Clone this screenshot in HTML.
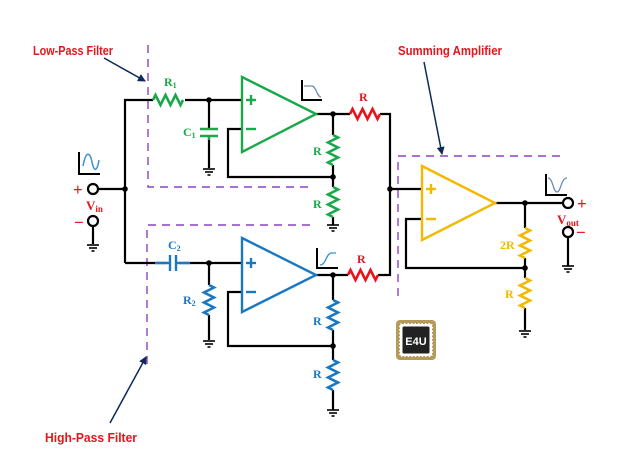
<!DOCTYPE html>
<html><head><meta charset="utf-8"><style>
html,body{margin:0;padding:0;background:#fff;}
svg{display:block;}
text{font-family:"Liberation Serif",serif;font-weight:bold;}
.lbl{font-family:"Liberation Sans",sans-serif;font-weight:bold;font-size:13px;fill:#e8141c;}
</style></head><body>
<svg width="620" height="466" viewBox="0 0 620 466" xmlns="http://www.w3.org/2000/svg">
<defs>
<path id="res" d="M0 0 L2.5 -5 L7.5 5 L12.5 -5 L17.5 5 L22.5 -5 L27.5 5 L30 0" fill="none" stroke-width="2.6" stroke-linejoin="miter"/>
<g id="gnd" stroke="#000" stroke-width="1.6"><line x1="-6" y1="0" x2="6" y2="0"/><line x1="-4" y1="3" x2="4" y2="3"/><line x1="-1.5" y1="6" x2="1.5" y2="6"/></g>
<marker id="ar" markerWidth="8" markerHeight="8" refX="7" refY="4" orient="auto" markerUnits="userSpaceOnUse"><path d="M0 0 L8 4 L0 8 Z" fill="#0d2a5c"/></marker>
</defs>

<g stroke="#8e44c0" stroke-width="1.4" stroke-dasharray="8,6" fill="none">
<path d="M148 45 V187 H310"/>
<path d="M310 225 H147 V367"/>
<path d="M560 156 H398 V297"/>
</g>

<text class="lbl" x="33" y="55" textLength="80" lengthAdjust="spacingAndGlyphs">Low-Pass Filter</text>
<text class="lbl" x="398" y="55" textLength="104" lengthAdjust="spacingAndGlyphs">Summing Amplifier</text>
<text class="lbl" x="45" y="442" textLength="92" lengthAdjust="spacingAndGlyphs">High-Pass Filter</text>
<g stroke="#0d2a5c" stroke-width="1.5">
<line x1="104" y1="58" x2="145" y2="81" marker-end="url(#ar)"/>
<line x1="424" y1="62" x2="442" y2="154" marker-end="url(#ar)"/>
<line x1="110" y1="423" x2="146" y2="357" marker-end="url(#ar)"/>
</g>

<g stroke="#000" stroke-width="2.2" fill="none">
<path d="M98 189 H125"/>
<path d="M125 263 V100 H153"/>
<path d="M185 100 H242"/>
<path d="M209 100 V128"/><path d="M209 138 V168"/>
<path d="M316 114 H350"/><path d="M380 114 H390 V275 H378"/>
<path d="M333 114 V135"/><path d="M333 165 V187"/><path d="M333 217 V225"/>
<path d="M242 129 H228 V177 H333"/>
<path d="M125 263 H167"/>
<path d="M179 263 H242"/>
<path d="M209 263 V285"/><path d="M209 315 V340"/>
<path d="M316 275 H348"/>
<path d="M333 275 V300"/><path d="M333 330 V360"/><path d="M333 390 V410"/>
<path d="M242 292 H228 V346 H333"/>
<path d="M390 189 H422"/>
<path d="M495 203 H563"/>
<path d="M525 203 V228"/><path d="M525 258 V278"/><path d="M525 308 V330"/>
<path d="M422 219 H406 V268 H525"/>
<path d="M93 226 V244"/>
<path d="M568 237 V266"/>
</g>
<use href="#gnd" x="209" y="169"/>
<use href="#gnd" x="333" y="225"/>
<use href="#gnd" x="209" y="341"/>
<use href="#gnd" x="333" y="410"/>
<use href="#gnd" x="525" y="331"/>
<use href="#gnd" x="93" y="245"/>
<use href="#gnd" x="568" y="266"/>
<g fill="#000">
<circle cx="125" cy="189" r="2.8"/><circle cx="209" cy="100" r="2.8"/><circle cx="333" cy="114" r="2.8"/>
<circle cx="333" cy="177" r="2.8"/><circle cx="209" cy="263" r="2.8"/><circle cx="333" cy="275" r="2.8"/>
<circle cx="333" cy="346" r="2.8"/><circle cx="390" cy="189" r="2.8"/><circle cx="525" cy="203" r="2.8"/>
<circle cx="525" cy="268" r="2.8"/>
</g>
<g fill="#fff" stroke="#000" stroke-width="2.2">
<circle cx="93" cy="189" r="5"/><circle cx="93" cy="221" r="5"/>
<circle cx="568" cy="203" r="5"/><circle cx="568" cy="232" r="5"/>
</g>

<g stroke="#1aa84a" fill="none" stroke-width="2.4">
<use href="#res" x="153" y="100" stroke="#1aa84a"/>
<line x1="200" y1="129" x2="218" y2="129"/><line x1="200" y1="136" x2="218" y2="136"/>
<line x1="209" y1="136" x2="209" y2="140"/>
<path d="M242 77 L316 114 L242 152 Z"/>
<line x1="246" y1="100" x2="256" y2="100"/><line x1="251" y1="95" x2="251" y2="105"/>
<line x1="246" y1="129" x2="256" y2="129"/>
<use href="#res" transform="translate(333 135) rotate(90)" stroke="#1aa84a"/>
<use href="#res" transform="translate(333 187) rotate(90)" stroke="#1aa84a"/>
</g>
<g fill="#1aa84a" font-size="12">
<text x="164" y="86">R<tspan font-size="8" dy="2">1</tspan></text>
<text x="183" y="136">C<tspan font-size="8" dy="2">1</tspan></text>
<text x="313" y="155">R</text>
<text x="313" y="208">R</text>
</g>

<g stroke="#1a78c2" fill="none" stroke-width="2.4">
<line x1="155" y1="263" x2="170" y2="263"/><line x1="176" y1="263" x2="190" y2="263"/>
<line x1="170" y1="255" x2="170" y2="271"/><line x1="176" y1="255" x2="176" y2="271"/>
<path d="M242 238 L316 275 L242 312 Z"/>
<line x1="246" y1="263" x2="256" y2="263"/><line x1="251" y1="258" x2="251" y2="268"/>
<line x1="246" y1="292" x2="256" y2="292"/>
<use href="#res" transform="translate(209 285) rotate(90)" stroke="#1a78c2"/>
<use href="#res" transform="translate(333 300) rotate(90)" stroke="#1a78c2"/>
<use href="#res" transform="translate(333 360) rotate(90)" stroke="#1a78c2"/>
</g>
<g fill="#1a78c2" font-size="12">
<text x="168" y="249">C<tspan font-size="8" dy="2">2</tspan></text>
<text x="183" y="304">R<tspan font-size="8" dy="2">2</tspan></text>
<text x="313" y="325">R</text>
<text x="313" y="378">R</text>
</g>

<use href="#res" x="350" y="114" stroke="#e8141c"/>
<use href="#res" x="348" y="275" stroke="#e8141c"/>
<text x="359" y="101" fill="#e8141c" font-size="12">R</text>
<text x="357" y="263" fill="#e8141c" font-size="12">R</text>

<g stroke="#f5b800" fill="none" stroke-width="2.4">
<path d="M422 166 L495 203 L422 240 Z"/>
<line x1="426" y1="189" x2="436" y2="189"/><line x1="431" y1="184" x2="431" y2="194"/>
<line x1="426" y1="219" x2="436" y2="219"/>
<use href="#res" transform="translate(525 228) rotate(90)" stroke="#f5b800"/>
<use href="#res" transform="translate(525 278) rotate(90)" stroke="#f5b800"/>
</g>
<g fill="#f5b800" font-size="12">
<text x="500" y="249">2R</text>
<text x="505" y="298">R</text>
</g>

<g fill="#e8141c">
<text x="73" y="195" font-size="17">+</text>
<text x="74" y="228" font-size="17">−</text>
<text x="86" y="210" font-size="13">V<tspan font-size="9" dy="2">in</tspan></text>
<text x="577" y="209" font-size="17">+</text>
<text x="576" y="238" font-size="17">−</text>
<text x="557" y="224" font-size="13">V<tspan font-size="9" dy="2">out</tspan></text>
</g>

<g fill="none">
<path d="M79 152 V174 H100" stroke="#000" stroke-width="2"/>
<path d="M83 166 C86 150 90 152 92 162 C94 172 97 172 99 160" stroke="#3a8fd0" stroke-width="1.5"/>
<path d="M302 80 V100 H322" stroke="#000" stroke-width="2"/>
<path d="M304 86 H312 C316 86 317 97 321 97" stroke="#6a8fb8" stroke-width="1.3"/>
<path d="M317 248 V268 H338" stroke="#000" stroke-width="2"/>
<path d="M320 265 C326 265 326 254 331 253 H336" stroke="#3a8fd0" stroke-width="1.3"/>
<path d="M546 174 V195 H567" stroke="#000" stroke-width="2"/>
<path d="M548 178 C553 178 553 192 557 192 C561 192 561 178 567 178" stroke="#6a8fb8" stroke-width="1.3"/>
</g>

<g>
<rect x="396" y="320" width="40" height="40" rx="4" fill="#b59a5a"/>
<rect x="399" y="323" width="34" height="34" rx="3" fill="#fff" stroke="#b59a5a" stroke-width="2" stroke-dasharray="2,1.5"/>
<rect x="402" y="326" width="28" height="28" rx="2" fill="#222" stroke="#fff" stroke-width="1"/>
<text x="416" y="345" text-anchor="middle" fill="#fff" font-size="11" style="font-family:'Liberation Sans',sans-serif">E4U</text>
</g>
</svg>
</body></html>
